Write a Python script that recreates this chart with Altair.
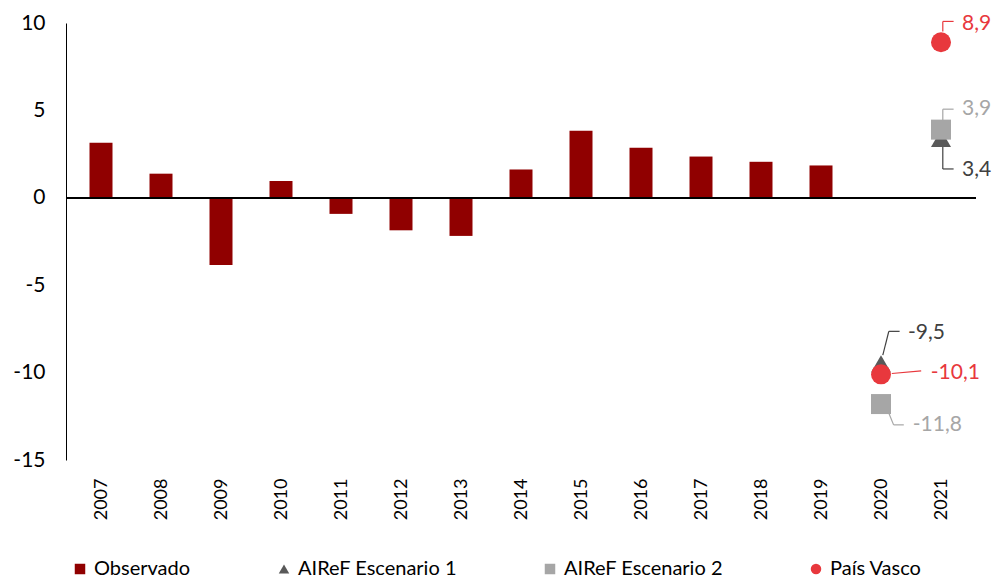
import altair as alt
import pandas as pd

# ---- data ----
years = list(range(2007, 2020))
observado = [3.15, 1.38, -3.84, 0.96, -0.92, -1.86, -2.18, 1.62, 3.83, 2.87, 2.36, 2.06, 1.85]

proj_years = [2020, 2021]
escenario1 = [-9.5, 3.4]
escenario2 = [-11.8, 3.9]
pais_vasco = [-10.1, 8.9]

series = ["Observado", "AIReF Escenario 1", "AIReF Escenario 2", "País Vasco"]
colors = ["#900000", "#595959", "#A6A6A6", "#E8383D"]
shapes = ["square", "triangle-up", "square", "circle"]

x_ticks = list(range(2007, 2022))
y_ticks = [-15, -10, -5, 0, 5, 10]

FONT = "Lato"


def fmt(v):
    return f"{v:.1f}".replace(".", ",")


bars_df = pd.DataFrame({"year": years, "value": observado, "serie": "Observado"})

pts_rows = []
for name, vals in [("AIReF Escenario 1", escenario1),
                   ("AIReF Escenario 2", escenario2),
                   ("País Vasco", pais_vasco)]:
    for yr, v in zip(proj_years, vals):
        pts_rows.append({"year": yr, "value": v, "serie": name})
pts_df = pd.DataFrame(pts_rows)

# annotation layout (label anchor / leader geometry in data units)
label_color = {"AIReF Escenario 1": "#404040", "AIReF Escenario 2": "#A6A6A6", "País Vasco": "#E8383D"}
ann_labels = [
    ("País Vasco", 1, 2021.35, 9.97),
    ("AIReF Escenario 2", 1, 2021.35, 5.07),
    ("AIReF Escenario 1", 1, 2021.35, 1.6),
    ("AIReF Escenario 1", 0, 2020.45, -7.75),
    ("País Vasco", 0, 2020.83, -10.03),
    ("AIReF Escenario 2", 0, 2020.53, -12.99),
]
value_of = {"AIReF Escenario 1": escenario1, "AIReF Escenario 2": escenario2, "País Vasco": pais_vasco}
text_df = pd.DataFrame([
    {"year": lx, "value": ly, "label": fmt(value_of[s][i]), "col": label_color[s]}
    for s, i, lx, ly in ann_labels
])

leaders = [
    ("País Vasco", 2021.03, 9.52, 2021.03, 10.09),
    ("País Vasco", 2021.03, 10.09, 2021.21, 10.09),
    ("AIReF Escenario 2", 2021.03, 4.39, 2021.03, 5.07),
    ("AIReF Escenario 2", 2021.03, 5.07, 2021.21, 5.07),
    ("AIReF Escenario 1", 2021.03, 3.4, 2021.03, 1.65),
    ("AIReF Escenario 1", 2021.03, 1.65, 2021.21, 1.65),
    ("AIReF Escenario 1", 2020.03, -9.0, 2020.13, -7.64),
    ("AIReF Escenario 1", 2020.13, -7.64, 2020.31, -7.64),
    ("País Vasco", 2020.18, -10.05, 2020.67, -9.9),
    ("AIReF Escenario 2", 2020.13, -12.31, 2020.21, -12.99),
    ("AIReF Escenario 2", 2020.21, -12.99, 2020.38, -12.99),
]
lead_df = pd.DataFrame([
    {"year": a, "value": b, "year2": c, "value2": d, "col": label_color[s]}
    for s, a, b, c, d in leaders
])

xscale = alt.Scale(domain=[2006.5, 2021.5], nice=False, zero=False)
yscale = alt.Scale(domain=[-15, 10], nice=False)

xaxis = alt.Axis(values=x_ticks, labelAngle=-90, labelAlign="right", labelBaseline="middle",
                 labelFontSize=18, labelFont=FONT, labelColor="black", labelPadding=18,
                 ticks=False, domain=False, grid=False, title=None,
                 labelExpr="'' + datum.value", labelFlush=False, labelOverlap=False)
yaxis = alt.Axis(values=y_ticks, labelFontSize=21, labelFont=FONT, labelColor="black",
                 labelPadding=21, ticks=False, domain=True, domainColor="black",
                 domainWidth=1, grid=False, title=None, labelExpr="'' + datum.value")

legend = alt.Legend(title=None, orient="none", legendX=4, legendY=536, direction="horizontal",
                    labelFont=FONT, labelFontSize=20, labelColor="black", symbolSize=110,
                    symbolStrokeWidth=0, columnPadding=83, labelOffset=4)

color_enc = alt.Color("serie:N", scale=alt.Scale(domain=series, range=colors), legend=legend)
shape_enc = alt.Shape("serie:N", scale=alt.Scale(domain=series, range=shapes), legend=legend)

bars = alt.Chart(bars_df).mark_bar(size=23).encode(
    x=alt.X("year:Q", scale=xscale, axis=xaxis),
    y=alt.Y("value:Q", scale=yscale, axis=yaxis),
    color=color_enc,
)

zero = alt.Chart(bars_df).mark_rule(color="black", strokeWidth=1.5).encode(
    y=alt.datum(0)
)

leader_lines = alt.Chart(lead_df).mark_rule(strokeWidth=1.2).encode(
    x=alt.X("year:Q", scale=xscale),
    x2="year2:Q",
    y=alt.Y("value:Q", scale=yscale),
    y2="value2:Q",
    color=alt.Color("col:N", scale=None),
)

points = alt.Chart(pts_df).mark_point(filled=True, size=400, opacity=1).encode(
    x=alt.X("year:Q", scale=xscale),
    y=alt.Y("value:Q", scale=yscale),
    color=color_enc,
    shape=shape_enc,
)

texts = alt.Chart(text_df).mark_text(align="left", baseline="middle", font=FONT, fontSize=21).encode(
    x=alt.X("year:Q", scale=xscale),
    y=alt.Y("value:Q", scale=yscale),
    text="label:N",
    color=alt.Color("col:N", scale=None),
)

chart = alt.layer(bars, zero, leader_lines, points, texts).properties(
    width=910,
    height=437,
    autosize=alt.AutoSizeParams(type="none"),
    padding={"left": 58, "top": 15, "right": 17, "bottom": 118},
    background="white",
).configure_view(stroke=None)

chart.save("out.html", embed_options={"renderer": "svg", "actions": False})
